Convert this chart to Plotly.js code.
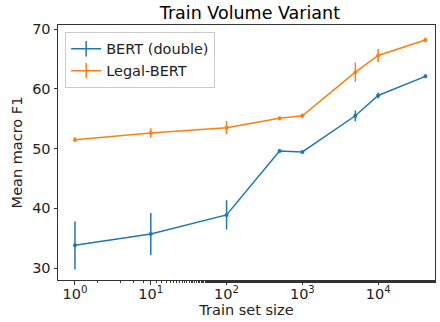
<!DOCTYPE html>
<html><head><meta charset="utf-8">
<script src="https://cdn.plot.ly/plotly-3.0.1.min.js"></script>
<style>html,body{margin:0;padding:0;background:#fff}#c{width:440px;height:322px}</style>
</head><body><div id="c"></div>
<script>
const trainSizes = [1, 10, 100, 500, 1000, 5000, 10000, 42000];
const bertMean = [33.8, 35.7, 38.9, 49.6, 49.45, 55.5, 58.9, 62.1];
const bertErr = [4.0, 3.5, 2.45, 0.2, 0.2, 0.9, 0.5, 0.3];
const legalMean = [51.5, 52.6, 53.5, 55.1, 55.5, 62.8, 65.6, 68.2];
const legalErr = [0.4, 0.8, 1.1, 0.3, 0.4, 1.6, 1.1, 0.4];
const seriesNames = ['BERT (double)', 'Legal-BERT'];
const seriesColors = ['#1f77b4', '#ff7f0e'];
const xTickVals = [1, 10, 100, 1000, 10000];
const xTickText = ['10<sup>0</sup>', '10<sup>1</sup>', '10<sup>2</sup>', '10<sup>3</sup>', '10<sup>4</sup>'];
const yTickVals = [30, 40, 50, 60, 70];

function tr(y, e, color) {
  return {x: trainSizes, y: y, type: 'scatter', mode: 'lines+markers', showlegend: false,
    line: {color: color, width: 1.5}, marker: {color: color, size: 4},
    error_y: {type: 'data', array: e, visible: true, color: color, thickness: 1.5, width: 0}};
}
function legendTr(name, color) {
  return {x: [null], y: [null], name: name, type: 'scatter', mode: 'lines+markers', showlegend: true,
    line: {color: color, width: 1.5},
    marker: {symbol: 'line-ns-open', size: 11, color: color, line: {color: color, width: 1.5}}};
}
const font = {family: 'DejaVu Sans', size: 14.5, color: '#222'};
const layout = {
  width: 440, height: 322, margin: {l: 58, r: 5, t: 25, b: 42},
  paper_bgcolor: '#fff', plot_bgcolor: '#fff', font: font,
  title: {text: 'Train Volume Variant', font: {family: 'DejaVu Sans', size: 17.5, color: '#000'}, x: 0.568, xanchor: 'center', y: 0.98, yanchor: 'top'},
  xaxis: {type: 'log', range: [-0.224, 4.75], tickvals: xTickVals, ticktext: xTickText,
    showline: true, mirror: true, linecolor: '#333', linewidth: 1, showgrid: false, zeroline: false,
    ticks: 'outside', ticklen: 3.5, tickcolor: '#333', tickfont: font, ticklabelstandoff: -3,
    minor: {ticks: 'outside', ticklen: 2, tickcolor: '#333', showgrid: false},
    title: {text: 'Train set size', font: font, standoff: 2}},
  yaxis: {range: [28.0, 70.7], tickvals: yTickVals,
    showline: true, mirror: true, linecolor: '#333', linewidth: 1, showgrid: false, zeroline: false,
    ticks: 'outside', ticklen: 3.5, tickcolor: '#333', tickfont: font,
    title: {text: 'Mean macro F1', font: font, standoff: 6}},
  legend: {x: 0.019, y: 0.973, xanchor: 'left', yanchor: 'top', bgcolor: 'rgba(255,255,255,0.8)',
    bordercolor: '#ccc', borderwidth: 1, font: font, tracegroupgap: 0},
  showlegend: true
};
Plotly.newPlot('c', [
  tr(bertMean, bertErr, seriesColors[0]), tr(legalMean, legalErr, seriesColors[1]),
  legendTr(seriesNames[0], seriesColors[0]), legendTr(seriesNames[1], seriesColors[1])
], layout, {displayModeBar: false, staticPlot: true});
</script></body></html>
